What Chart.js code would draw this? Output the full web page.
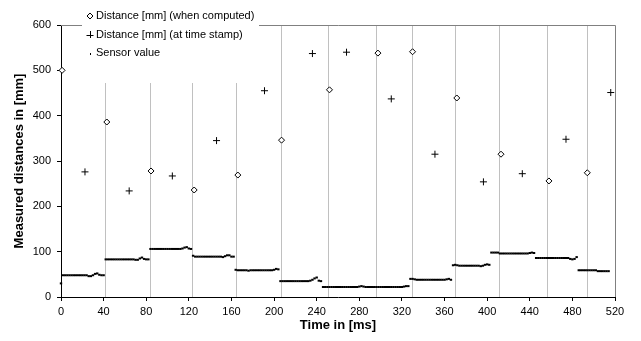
<!DOCTYPE html>
<html>
<head>
<meta charset="utf-8">
<script src="https://cdn.jsdelivr.net/npm/chart.js@4.4.0/dist/chart.umd.min.js"></script>
<style>
  html, body { margin: 0; padding: 0; background: #fff; }
  #wrap { width: 641px; height: 341px; }
</style>
</head>
<body>
<div id="wrap"><canvas id="chart" width="641" height="341"></canvas></div>
<script>
// distance when computed (diamonds)
const computedTimes = [1, 43, 84.5, 125, 166, 207, 252, 297.5, 330, 371.5, 413, 458, 494];
const computedDist  = [500, 386, 278, 236, 269, 346, 457, 538, 541, 439, 315, 256, 274];

// distance at time stamp (crosses)
const stampTimes = [22.5, 64, 104.5, 146, 191, 236, 268, 310, 351, 396.5, 433, 474, 516];
const stampDist  = [276, 234, 267, 345, 455, 537, 540, 437, 315, 254, 272, 348, 451];

// grey marker lines (time of each new sensor reading)
const markTimes = [41.3, 83.3, 123.2, 164.5, 206.2, 251, 295.7, 329, 370.2, 411.5, 456.5, 493.4];

// sensor value, one sample every 2 ms from 0 to 520
const sensorStepMs = 2;
const sensorValues = [
  30, 48, 48, 48, 48, 48, 48, 48, 48, 48, 48, 48, 48, 46, 46, 48, 51, 52, 49, 48, 48,
  83, 83, 83, 83, 83, 83, 83, 83, 83, 83, 83, 83, 83, 83, 82, 82, 85, 87, 84, 83, 83,
  106, 106, 106, 106, 106, 106, 106, 106, 106, 106, 106, 106, 106, 106, 106, 107, 109, 110, 107, 106,
  91, 89, 89, 89, 89, 89, 89, 89, 89, 89, 89, 89, 89, 89, 88, 90, 92, 92, 89, 89,
  60, 59, 59, 59, 59, 59, 58, 59, 59, 59, 59, 59, 59, 59, 59, 59, 59, 59, 60, 62, 61,
  35, 35, 35, 35, 35, 35, 35, 35, 35, 35, 35, 35, 35, 35, 36, 38, 41, 43, 36, 35,
  22, 22, 22, 22, 22, 22, 22, 22, 22, 22, 22, 22, 22, 22, 22, 22, 22, 23, 24, 23,
  22, 22, 22, 22, 22, 22, 22, 22, 22, 22, 22, 22, 22, 22, 22, 22, 22, 22, 23, 24, 24,
  40, 40, 39, 38, 38, 38, 38, 38, 38, 38, 38, 38, 38, 38, 38, 38, 38, 39, 40, 38,
  70, 71, 70, 69, 69, 69, 69, 69, 69, 69, 69, 69, 69, 68, 69, 71, 72, 71,
  98, 98, 98, 98, 96, 96, 96, 96, 96, 96, 96, 96, 96, 96, 96, 96, 96, 96, 97, 98, 97,
  86, 86, 86, 86, 86, 86, 86, 86, 86, 86, 86, 86, 86, 86, 86, 86, 84, 83, 84, 88,
  59, 59, 59, 59, 59, 59, 59, 59, 59, 57, 57, 57, 57, 57, 57
];

const xTicks = { min: 0, max: 520, step: 40 };
const yTicks = { min: 0, max: 600, step: 100 };

const FONT = '"Liberation Sans", Arial, sans-serif';
Chart.defaults.font.family = FONT;
Chart.defaults.color = '#000';

// grey frame on top/right plus the vertical marker lines
const frameLines = {
  id: 'frameLines',
  beforeDatasetsDraw(chart) {
    const { ctx, chartArea: a, scales } = chart;
    ctx.save();
    ctx.lineWidth = 1;
    ctx.strokeStyle = '#c0c0c0';
    ctx.beginPath();
    markTimes.forEach(t => {
      const px = Math.round(scales.x.getPixelForValue(t)) + 0.5;
      ctx.moveTo(px, a.top);
      ctx.lineTo(px, a.bottom);
    });
    ctx.stroke();
    ctx.strokeStyle = '#808080';
    ctx.beginPath();
    ctx.moveTo(a.left, Math.round(a.top) + 0.5);
    ctx.lineTo(Math.round(a.right) + 0.5, Math.round(a.top) + 0.5);
    ctx.lineTo(Math.round(a.right) + 0.5, a.bottom);
    ctx.stroke();
    ctx.restore();
  }
};

// legend sitting in a white box over the plot, like the original
const boxLegend = {
  id: 'boxLegend',
  afterDraw(chart) {
    const ctx = chart.ctx;
    const rows = [16, 34.5, 53];
    const sx = 90, tx = 96;
    ctx.save();
    ctx.fillStyle = '#fff';
    ctx.fillRect(82, 2, 177, 81);
    ctx.font = '11px ' + FONT;
    ctx.textBaseline = 'middle';
    ctx.textAlign = 'left';
    ctx.lineWidth = 1;
    ctx.strokeStyle = '#000';
    ctx.fillStyle = '#000';
    chart.data.datasets.forEach((ds, i) => {
      const y = rows[i];
      ctx.beginPath();
      if (ds.pointStyle === 'rectRot') {
        ctx.moveTo(sx - 3, y);
        ctx.lineTo(sx, y - 3);
        ctx.lineTo(sx + 3, y);
        ctx.lineTo(sx, y + 3);
        ctx.closePath();
        ctx.fillStyle = '#fff';
        ctx.fill();
        ctx.stroke();
      } else if (ds.pointStyle === 'cross') {
        ctx.moveTo(sx - 3.5, Math.round(y) + 0.5);
        ctx.lineTo(sx + 3.5, Math.round(y) + 0.5);
        ctx.moveTo(sx + 0.5, y - 3.5);
        ctx.lineTo(sx + 0.5, y + 3.5);
        ctx.stroke();
      } else {
        ctx.fillRect(sx, y, 1, 2);
      }
      ctx.fillStyle = '#000';
      ctx.fillText(ds.label, tx, y);
    });
    ctx.restore();
  }
};

const toPoints = (xs, ys) => xs.map((x, i) => ({ x: x, y: ys[i] }));

new Chart(document.getElementById('chart'), {
  type: 'scatter',
  data: {
    datasets: [
      {
        label: 'Distance [mm] (when computed)',
        data: toPoints(computedTimes, computedDist),
        pointStyle: 'rectRot',
        pointRadius: 3,
        borderWidth: 1,
        borderColor: '#000',
        backgroundColor: '#fff',
        clip: false
      },
      {
        label: 'Distance [mm] (at time stamp)',
        data: toPoints(stampTimes, stampDist),
        pointStyle: 'cross',
        pointRadius: 3.5,
        borderWidth: 1,
        borderColor: '#000',
        backgroundColor: '#000'
      },
      {
        label: 'Sensor value',
        data: sensorValues.map((v, i) => ({ x: i * sensorStepMs, y: v })),
        pointStyle: 'line',
        pointRadius: 1.2,
        borderWidth: 2,
        borderColor: '#000',
        backgroundColor: '#000',
        clip: false
      }
    ]
  },
  options: {
    responsive: false,
    animation: false,
    events: [],
    layout: { padding: { top: 25, right: 26, bottom: 0, left: 0 } },
    plugins: {
      legend: { display: false },
      tooltip: { enabled: false }
    },
    scales: {
      x: {
        type: 'linear',
        min: xTicks.min,
        max: xTicks.max,
        afterFit: s => { s.height = 44; },
        ticks: { stepSize: xTicks.step, font: { size: 11 }, color: '#000', padding: 4, maxRotation: 0 },
        grid: { drawOnChartArea: false, drawTicks: true, tickLength: 4, color: '#000' },
        border: { color: '#000', width: 1 },
        title: {
          display: true,
          text: 'Time in [ms]',
          color: '#000',
          font: { size: 13, weight: 'bold' },
          padding: { top: 0, bottom: 8 }
        }
      },
      y: {
        min: yTicks.min,
        max: yTicks.max,
        afterFit: s => { s.width = 61; },
        ticks: { stepSize: yTicks.step, font: { size: 11 }, color: '#000', padding: 6 },
        grid: { drawOnChartArea: false, drawTicks: true, tickLength: 4, color: '#000' },
        border: { color: '#000', width: 1 },
        title: {
          display: true,
          text: 'Measured distances in [mm]',
          color: '#000',
          font: { size: 13, weight: 'bold' },
          padding: { top: 12, bottom: 0 }
        }
      }
    }
  },
  plugins: [frameLines, boxLegend]
});
</script>
</body>
</html>
